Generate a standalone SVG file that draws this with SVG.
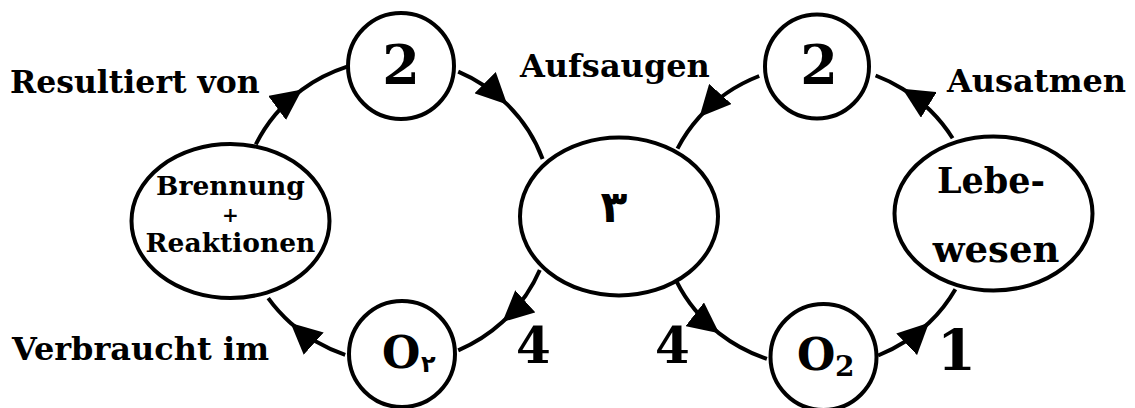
<svg xmlns="http://www.w3.org/2000/svg" width="1135" height="408" viewBox="0 0 1135 408">
  <style>
    .node { fill: #fff; stroke: #000; stroke-width: 4; }
    .edge { fill: none; stroke: #000; stroke-width: 4; marker-mid: url(#arrow); }
    text { font-family: "DejaVu Serif", "Liberation Serif", serif; font-weight: bold; fill: #000; }
    .c { text-anchor: middle; }
    .ar { font-family: "DejaVu Sans", "Noto Sans", sans-serif; }
  </style>
  <defs>
    <marker id="arrow" viewBox="0 0 31 30" refX="31" refY="15" markerWidth="31" markerHeight="30" markerUnits="userSpaceOnUse" orient="auto">
      <path d="M0,0 L31,15 L0,30 z" fill="#000"/>
    </marker>
  </defs>
  <rect width="1135" height="408" fill="#fff"/>

  <g id="connectors">
    <path class="edge" d="M255.8,144.4 A156,152 0 0 1 302.1,89.6 A156,152 0 0 1 346.5,66.9"/>
    <path class="edge" d="M458.2,71.6 A156,152 0 0 1 507.2,104.4 A156,152 0 0 1 542.6,159"/>
    <path class="edge" d="M539.8,270 A156,152 0 0 1 502.4,322.1 A156,152 0 0 1 458.2,350.4"/>
    <path class="edge" d="M345.2,354.8 A156,152 0 0 1 290.6,323 A156,152 0 0 1 268.2,298.2"/>
    <path class="edge" d="M676.4,281.2 A157,151 0 0 0 719.2,333.3 A157,151 0 0 0 766.9,358.8"/>
    <path class="edge" d="M878.1,355.5 A157,151 0 0 0 929,322.8 A157,151 0 0 0 955.4,289.2"/>
    <path class="edge" d="M952.6,138.2 A157,151 0 0 0 902.4,88.7 A157,151 0 0 0 875.6,75.5"/>
    <path class="edge" d="M759.2,76 A157,151 0 0 0 699.5,116.9 A157,151 0 0 0 677.5,148.6"/>
  </g>

  <g id="node-2-left">
    <circle class="node" cx="401" cy="66" r="53"/>
    <text class="c" x="401" y="84" font-size="54">2</text>
  </g>
  <g id="node-brennung">
    <ellipse class="node" cx="230.5" cy="221" rx="99" ry="77"/>
    <text class="c" x="230.5" y="195" font-size="26.5">Brennung</text>
    <text class="c" x="230.5" y="222" font-size="20">+</text>
    <text class="c" x="230.5" y="252" font-size="26.5">Reaktionen</text>
  </g>
  <g id="node-o2-left">
    <circle class="node" cx="402" cy="354" r="53"/>
    <text x="382" y="368" font-size="44">O</text>
    <text class="ar" x="421" y="372" font-size="24">٢</text>
  </g>
  <g id="node-drei">
    <ellipse class="node" cx="619" cy="216.5" rx="99" ry="79"/>
    <text class="c ar" x="614" y="222" font-size="44">٣</text>
  </g>
  <g id="node-2-right">
    <circle class="node" cx="817" cy="66.5" r="52"/>
    <text class="c" x="819" y="84" font-size="54">2</text>
  </g>
  <g id="node-lebewesen">
    <ellipse class="node" cx="993.5" cy="213.5" rx="99" ry="77"/>
    <text class="c" x="991" y="193" font-size="35">Lebe-</text>
    <text class="c" x="996" y="262" font-size="37">wesen</text>
  </g>
  <g id="node-o2-right">
    <circle class="node" cx="823.5" cy="357" r="53"/>
    <text x="797" y="370" font-size="44">O</text>
    <text x="835" y="376" font-size="28">2</text>
  </g>

  <g id="labels">
    <text x="10" y="93" font-size="31.5">Resultiert von</text>
    <text x="12" y="360" font-size="32">Verbraucht im</text>
    <text x="520" y="77" font-size="32">Aufsaugen</text>
    <text x="947" y="92" font-size="32">Ausatmen</text>
    <text x="516" y="363" font-size="50">4</text>
    <text x="655" y="363" font-size="50">4</text>
    <text x="937" y="370" font-size="56">1</text>
  </g>
</svg>
